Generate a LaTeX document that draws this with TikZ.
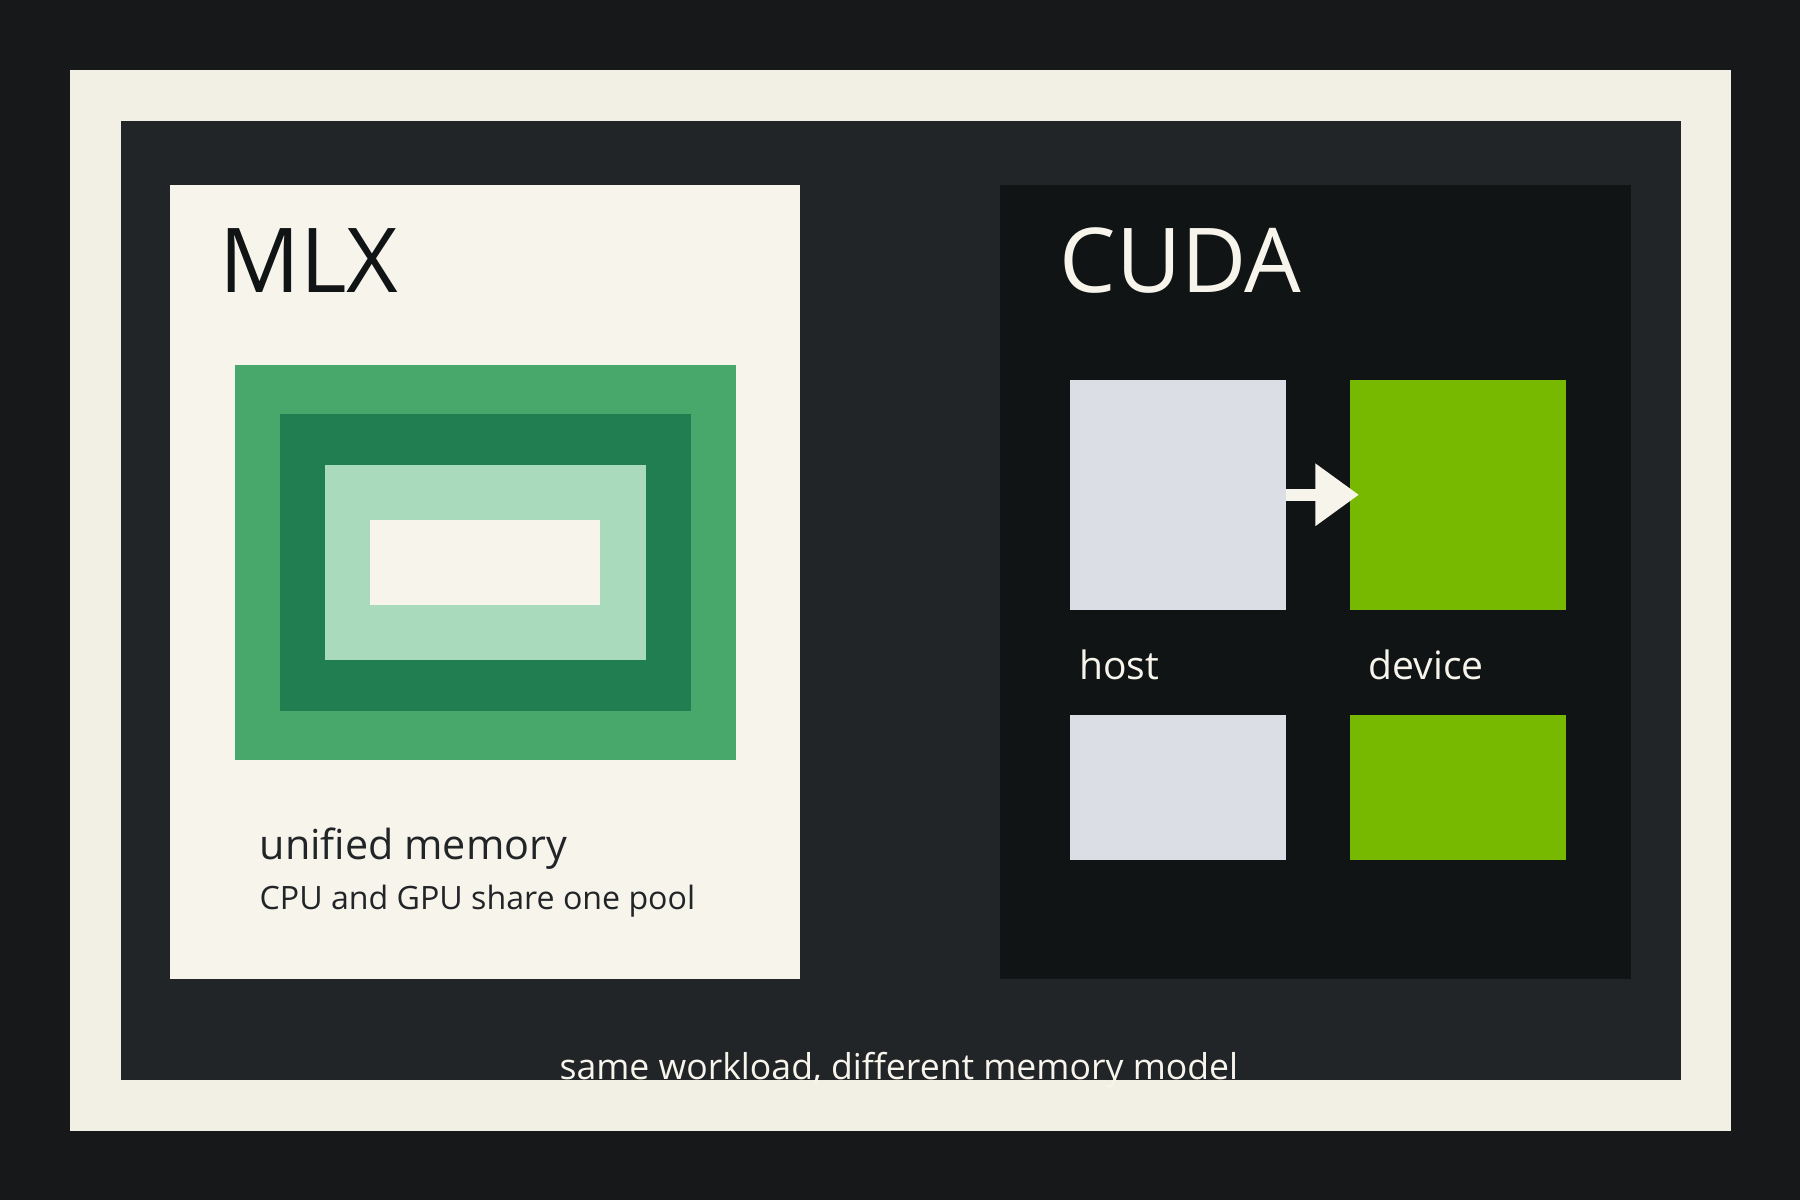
\documentclass[tikz,border=0pt]{standalone}
\usepackage{fontspec}
\setmainfont{Open Sans}
\usetikzlibrary{positioning}
\usetikzlibrary{arrows.meta}
\definecolor{night}{HTML}{16181A}
\definecolor{cream}{HTML}{F2EFE4}
\definecolor{slate}{HTML}{222527}
\definecolor{paper}{HTML}{F7F4EC}
\definecolor{ink}{HTML}{111415}
\definecolor{leaf}{HTML}{48A86C}
\definecolor{forest}{HTML}{217E50}
\definecolor{mint}{HTML}{A8DABB}
\definecolor{hostgray}{HTML}{DCDEE5}
\definecolor{nvgreen}{HTML}{76B900}
\tikzset{
  memblock/.style={rectangle, inner sep=0pt, minimum width=188pt},
  lbl/.style={anchor=base west, inner sep=0pt}
}
\begin{document}
\begin{tikzpicture}[x=1pt,y=-1pt]
\useasboundingbox (0,0) rectangle (1568,1045);
\fill[night] (0,0) rectangle (1568,1045);
\fill[cream] (61,61) rectangle (1508,985);
\fill[slate] (105,105) rectangle (1464,941);

% MLX side
\fill[paper] (148,161) rectangle (697,853);
\node[lbl, font=\fontsize{78}{80}\selectfont, text=ink] (mlx) at (191,255) {MLX};
\fill[leaf] (205,318) rectangle (641,662);
\fill[forest] (244,361) rectangle (602,619);
\fill[mint] (283,405) rectangle (563,575);
\fill[paper] (322,453) rectangle (523,527);
\node[lbl, font=\fontsize{36}{38}\selectfont, text=slate] (unified) at (226,749) {unified memory};
\node[lbl, font=\fontsize{28}{30}\selectfont, text=slate] (pool) at (226,792) {CPU and GPU share one pool};

% CUDA side
\fill[ink] (871,161) rectangle (1421,853);
\node[lbl, font=\fontsize{78}{80}\selectfont, text=paper] (cuda) at (923,255) {CUDA};
\node[memblock, fill=hostgray, minimum height=200pt] (host1) at (1026,431) {};
\node[memblock, fill=nvgreen, minimum height=200pt] (dev1) at (1270,431) {};
\node[memblock, fill=hostgray, minimum height=126pt] (host2) at (1026,686) {};
\node[memblock, fill=nvgreen, minimum height=126pt] (dev2) at (1270,686) {};
\draw[paper, line width=10pt, shorten >=-8pt,
  -{Triangle[length=38pt,width=52pt]}] (host1.east) -- (dev1.west);
\node[lbl, font=\fontsize{34}{36}\selectfont, text=paper] (hostlbl) at (940,592) {host};
\node[lbl, font=\fontsize{34}{36}\selectfont, text=paper] (devlbl) at (1192,592) {device};

\node[font=\fontsize{31}{33}\selectfont, text=paper, anchor=base, inner sep=0pt] (caption) at (783,940) {same workload, different memory model};
\end{tikzpicture}
\end{document}
